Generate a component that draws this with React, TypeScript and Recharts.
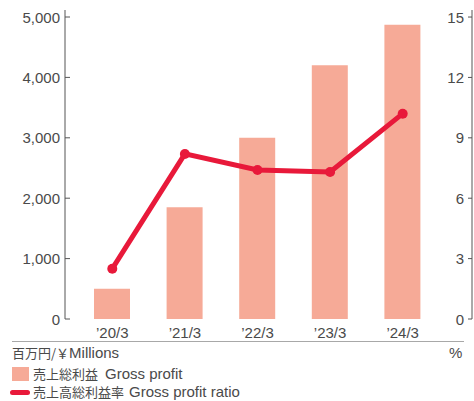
import React from "react";
import { ComposedChart, Bar, Line, XAxis, YAxis } from "recharts";

const years = ["’20/3", "’21/3", "’22/3", "’23/3", "’24/3"];
const grossProfit = [500, 1850, 3000, 4200, 4870];
const grossProfitRatio = [2.5, 8.2, 7.4, 7.3, 10.2];
const leftTicks = [0, 1000, 2000, 3000, 4000, 5000];
const rightTicks = [0, 3, 6, 9, 12, 15];

const data = years.map((year, i) => ({
  year,
  profit: grossProfit[i],
  ratio: grossProfitRatio[i],
}));

const FONT = '"Liberation Sans", Arial, "Noto Sans CJK JP", sans-serif';
const CJK = '"Noto Sans CJK JP", sans-serif';
const AXIS = "#555";
const TEXT = "#4a4a4a";
const BAR = "#f6aa97";
const RED = "#e8193a";

function LeftTick({ x, y, payload }: any) {
  return (
    <g>
      <line x1={x} x2={x + 5} y1={y} y2={y} stroke={AXIS} strokeWidth={1} />
      <text x={x - 5} y={y + 5.5} textAnchor="end" fontSize={15} fill={TEXT} fontFamily={FONT}>
        {payload.value.toLocaleString("en-US")}
      </text>
    </g>
  );
}

function RightTick({ x, y, payload }: any) {
  return (
    <g>
      <line x1={x - 4} x2={x} y1={y} y2={y} stroke={AXIS} strokeWidth={1} />
      <text x={x - 8} y={y + 5.5} textAnchor="end" fontSize={15} fill={TEXT} fontFamily={FONT}>
        {payload.value}
      </text>
    </g>
  );
}

function BottomTick({ x, y, payload }: any) {
  return (
    <text x={x} y={y + 19} textAnchor="middle" fontSize={15} fill={TEXT} fontFamily={FONT}>
      {payload.value}
    </text>
  );
}

export default function App() {
  const label: React.CSSProperties = {
    position: "absolute",
    fontFamily: FONT,
    fontSize: 15,
    color: TEXT,
    lineHeight: "18px",
    whiteSpace: "nowrap",
  };
  const jp: React.CSSProperties = { fontFamily: CJK, fontSize: 13 };
  return (
    <div style={{ position: "absolute", left: 0, top: 0, width: 474, height: 401, background: "#fff" }}>
      <ComposedChart
        width={474}
        height={345}
        data={data}
        margin={{ top: 10, right: 0, left: 0, bottom: 0 }}
      >
        <XAxis
          dataKey="year"
          axisLine={false}
          tickLine={false}
          tickSize={0}
          tickMargin={0}
          height={26}
          padding={{ left: 11, right: 33 }}
          tick={<BottomTick />}
          interval={0}
        />
        <YAxis
          yAxisId="left"
          orientation="left"
          width={65}
          domain={[0, 5116]}
          ticks={leftTicks}
          axisLine={{ stroke: AXIS }}
          tickLine={false}
          tickSize={0}
          tickMargin={0}
          tick={<LeftTick />}
          allowDataOverflow
        />
        <YAxis
          yAxisId="right"
          orientation="right"
          width={2}
          domain={[0, 15.35]}
          ticks={rightTicks}
          axisLine={{ stroke: AXIS }}
          tickLine={false}
          tickSize={0}
          tickMargin={0}
          tick={<RightTick />}
          allowDataOverflow
        />
        <Bar yAxisId="left" dataKey="profit" fill={BAR} barSize={36} isAnimationActive={false} />
        <Line
          yAxisId="right"
          dataKey="ratio"
          stroke={RED}
          strokeWidth={5}
          dot={{ r: 5, fill: RED, stroke: RED, strokeWidth: 0 }}
          activeDot={false}
          isAnimationActive={false}
        />
      </ComposedChart>
      <div style={{ position: "absolute", left: 12, top: 341, width: 452, height: 1, background: "#a8a8a8" }} />
      <div style={{ ...label, left: 12, top: 344 }}>
        <span style={jp}>百万円/￥</span>Millions
      </div>
      <div style={{ ...label, left: 449, top: 344 }}>%</div>
      <div style={{ position: "absolute", left: 12, top: 367, width: 17, height: 14, background: BAR }} />
      <div style={{ ...label, left: 33, top: 365 }}>
        <span style={jp}>売上総利益</span>
        <span style={{ marginLeft: 7 }}>Gross profit</span>
      </div>
      <div
        style={{
          position: "absolute",
          left: 10,
          top: 389.5,
          width: 20,
          height: 5,
          borderRadius: 3,
          background: RED,
        }}
      />
      <div style={{ ...label, left: 33, top: 383 }}>
        <span style={jp}>売上高総利益率</span>
        <span style={{ marginLeft: 5 }}>Gross profit ratio</span>
      </div>
    </div>
  );
}
